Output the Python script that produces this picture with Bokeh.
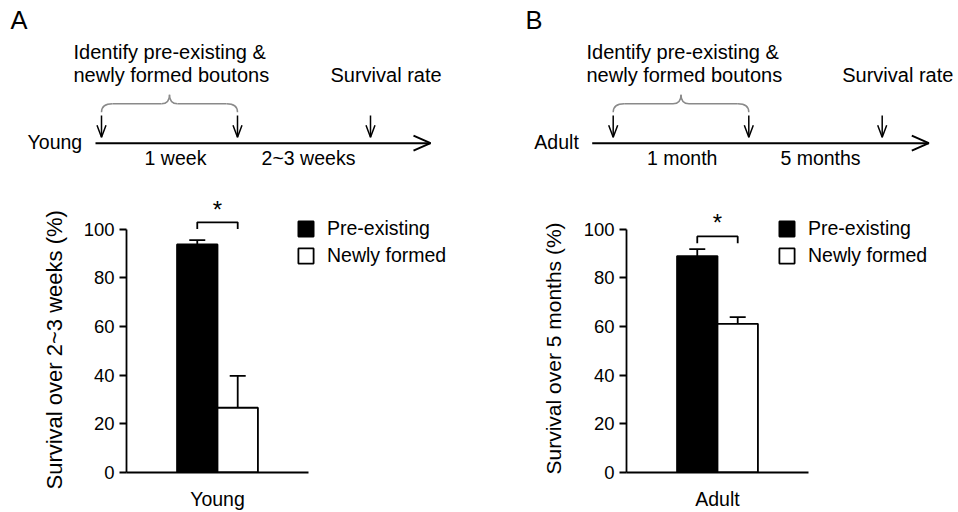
from bokeh.plotting import figure
from bokeh.layouts import row, column
from bokeh.models import (Range1d, LinearAxis, FixedTicker, Legend, LegendItem,
                          Whisker, TeeHead, ColumnDataSource, Title)
from bokeh.core.properties import value
from bokeh.embed import file_html
from bokeh.resources import INLINE

FONT = "Liberation Sans"

# ---------------- data ----------------
panel_letters = ["A", "B"]
groups = ["Young", "Adult"]
series_names = ["Pre-existing", "Newly formed"]
pre_existing = [93.7, 88.9]
pre_existing_sem = [1.8, 2.9]
newly_formed = [26.6, 61.1]
newly_formed_sem = [13.1, 2.7]
y_titles = ["Survival over 2~3 weeks (%)", "Survival over 5 months (%)"]
y_ticks = [0, 20, 40, 60, 80, 100]
significance = ["*", "*"]

identify_lines = ["Identify pre-existing &", "newly formed boutons"]
survival_text = "Survival rate"
interval_labels = [["1 week", "2~3 weeks"], ["1 month", "5 months"]]

# ---------------- layout constants ----------------
PANEL_W = 479
TL_H = 178
BAR_H = 334
PX_PER_X = 40.44
PX_PER_Y = 2.434
X_START = -2.25
FRAME_LEFT = [126, 147]
FRAME_BOTTOM = 40
Y_LABEL_STANDOFF = [27, 31]
Y_LABEL_OFFSET = [-17, -2]
Y_LABEL_SIZE = ["22px", "21px"]
LEGEND_POS = [(170, 205), (151, 205)]
SIG_BASE = [100.0, 94.2]
SIG_H = 2.8
STAR_GAP = [5.1, 5.8]
GRAY = "#8a8a8a"
LW = 1.8

TL = [
    dict(letter_x=10, text_x=73, line_x0=95, line_x1=430, arrows=[101, 237, 370],
         label_x=81.7, interval_x=[175, 308], survival_x=330),
    dict(letter_x=46, text_x=107, line_x0=112.7, line_x1=449.3, arrows=[133.7, 269.3, 402.7],
         label_x=99.3, interval_x=[202.7, 341], survival_x=362.7),
]


def txt(p, x, y, s, size="19.5px", align="left", baseline="middle", color="black"):
    p.text(x=[x], y=[y], text=[s], text_font=value(FONT), text_font_size=value(size),
           text_align=align, text_baseline=baseline, text_color=color)


def make_timeline(i):
    L = TL[i]
    p = figure(width=PANEL_W, height=TL_H, x_range=Range1d(0, PANEL_W), y_range=Range1d(TL_H, 0),
               x_axis_location=None, y_axis_location=None, toolbar_location=None,
               output_backend="svg", min_border=0, outline_line_color=None, frame_align=False)
    p.grid.visible = False
    txt(p, L["letter_x"], 19.4, panel_letters[i], size="25.5px")
    txt(p, L["text_x"], 51.4, identify_lines[0], size="20px")
    txt(p, L["text_x"], 74.8, identify_lines[1], size="20px")
    txt(p, L["survival_x"], 74.8, survival_text, size="20px")

    # curly brace over first two arrows
    xl, xr = L["arrows"][0], L["arrows"][1]
    xm = (xl + xr) / 2
    y_end, y_h, y_tip, r1, r2 = 111.7, 103.3, 94.3, 11, 8
    p.quadratic(x0=[xl, xm - r2, xm, xr - r1], y0=[y_end, y_h, y_tip, y_h],
                x1=[xl + r1, xm, xm + r2, xr], y1=[y_h, y_tip, y_h, y_end],
                cx=[xl, xm, xm, xr], cy=[y_h, y_h, y_h, y_h],
                line_color=GRAY, line_width=1.5)
    p.segment(x0=[xl + r1, xm + r2], y0=[y_h, y_h], x1=[xm - r2, xr - r1], y1=[y_h, y_h],
              line_color=GRAY, line_width=1.5)

    # down arrows
    ax = L["arrows"]
    y0, y1 = 115, 136.7
    p.segment(x0=ax, y0=[y0] * 3, x1=ax, y1=[y1] * 3, line_color="black", line_width=1.5)
    p.multi_line(xs=[[a - 4.5, a, a + 4.5] for a in ax], ys=[[y1 - 12, y1, y1 - 12]] * 3,
                 line_color="black", line_width=1.5)

    # main time line
    ly = 142.7
    p.segment(x0=[L["line_x0"]], y0=[ly], x1=[L["line_x1"]], y1=[ly], line_color="black", line_width=2)
    p.multi_line(xs=[[L["line_x1"] - 17, L["line_x1"], L["line_x1"] - 17]],
                 ys=[[ly - 7.5, ly, ly + 7.5]], line_color="black", line_width=2)

    txt(p, L["label_x"], 141.5, groups[i], align="right")
    for k in range(2):
        txt(p, L["interval_x"][k], 157.2, interval_labels[i][k], align="center")
    return p


def make_bars(i):
    left = FRAME_LEFT[i]
    frame_w = PANEL_W - left
    frame_h = BAR_H - FRAME_BOTTOM
    p = figure(width=PANEL_W, height=BAR_H,
               x_range=Range1d(X_START, X_START + frame_w / PX_PER_X),
               y_range=Range1d(0, frame_h / PX_PER_Y),
               x_axis_location=None, y_axis_location=None, toolbar_location=None,
               output_backend="svg", min_border_left=left, min_border_right=0,
               min_border_top=0, min_border_bottom=FRAME_BOTTOM, outline_line_color=None,
               frame_align=False)
    p.grid.visible = False

    yax = LinearAxis(bounds=(0, 100), ticker=FixedTicker(ticks=y_ticks),
                     axis_line_width=LW, major_tick_line_width=LW, major_tick_out=7, major_tick_in=0,
                     minor_tick_out=0, minor_tick_in=0,
                     major_label_text_font=FONT, major_label_text_font_size="18.5px",
                     major_label_standoff=5, major_label_text_color="black")
    p.add_layout(yax, "left")
    ytitle = Title(text=y_titles[i], align="left", offset=Y_LABEL_OFFSET[i],
                   vertical_align="bottom", standoff=Y_LABEL_STANDOFF[i],
                   text_font=FONT, text_font_size=Y_LABEL_SIZE[i], text_font_style="normal",
                   text_color="black")
    p.add_layout(ytitle, "left")

    xax = LinearAxis(bounds=(X_START, -X_START), ticker=FixedTicker(ticks=[0]),
                     major_label_overrides={0: groups[i]}, axis_line_width=LW,
                     major_tick_out=0, major_tick_in=0, minor_tick_out=0, minor_tick_in=0,
                     major_label_text_font=FONT, major_label_text_font_size="19.5px",
                     major_label_standoff=15, major_label_text_color="black")
    p.add_layout(xax, "below")

    means = [pre_existing[i], newly_formed[i]]
    sems = [pre_existing_sem[i], newly_formed_sem[i]]
    fills = ["black", "white"]
    offsets = [-0.5, 0.5]
    rends = []
    for k in range(2):
        src = ColumnDataSource(dict(x=[offsets[k]], top=[means[k]], lower=[means[k]],
                                    upper=[means[k] + sems[k]]))
        r = p.vbar(x="x", top="top", bottom=0, width=1.0, source=src, fill_color=fills[k],
                   line_color="black", line_width=LW)
        rends.append(r)
        p.add_layout(Whisker(source=src, base="x", lower="lower", upper="upper",
                             line_color="black", line_width=LW, lower_head=None,
                             upper_head=TeeHead(size=16, line_color="black", line_width=LW)))

    b0 = SIG_BASE[i]
    b1 = b0 + SIG_H
    p.line(x=[offsets[0], offsets[0], offsets[1], offsets[1]], y=[b0, b1, b1, b0],
           line_color="black", line_width=LW)
    p.text(x=[0], y=[b1 + STAR_GAP[i]], text=[significance[i]], text_font=value(FONT),
           text_font_size=value("24px"), text_align="center", text_baseline="alphabetic",
           text_color="black")

    legend = Legend(items=[LegendItem(label=series_names[k], renderers=[rends[k]]) for k in range(2)],
                    location=LEGEND_POS[i], glyph_width=19, glyph_height=19, label_standoff=12,
                    padding=0, margin=0, spacing=4, label_text_font=FONT,
                    label_text_font_size="19.5px", label_text_baseline="middle",
                    label_height=22, border_line_color=None, background_fill_alpha=0,
                    label_text_color="black")
    p.add_layout(legend)
    return p


layout = row(column(make_timeline(0), make_bars(0)), column(make_timeline(1), make_bars(1)))

with open("out.html", "w") as f:
    f.write(file_html(layout, INLINE, "Bouton survival"))
